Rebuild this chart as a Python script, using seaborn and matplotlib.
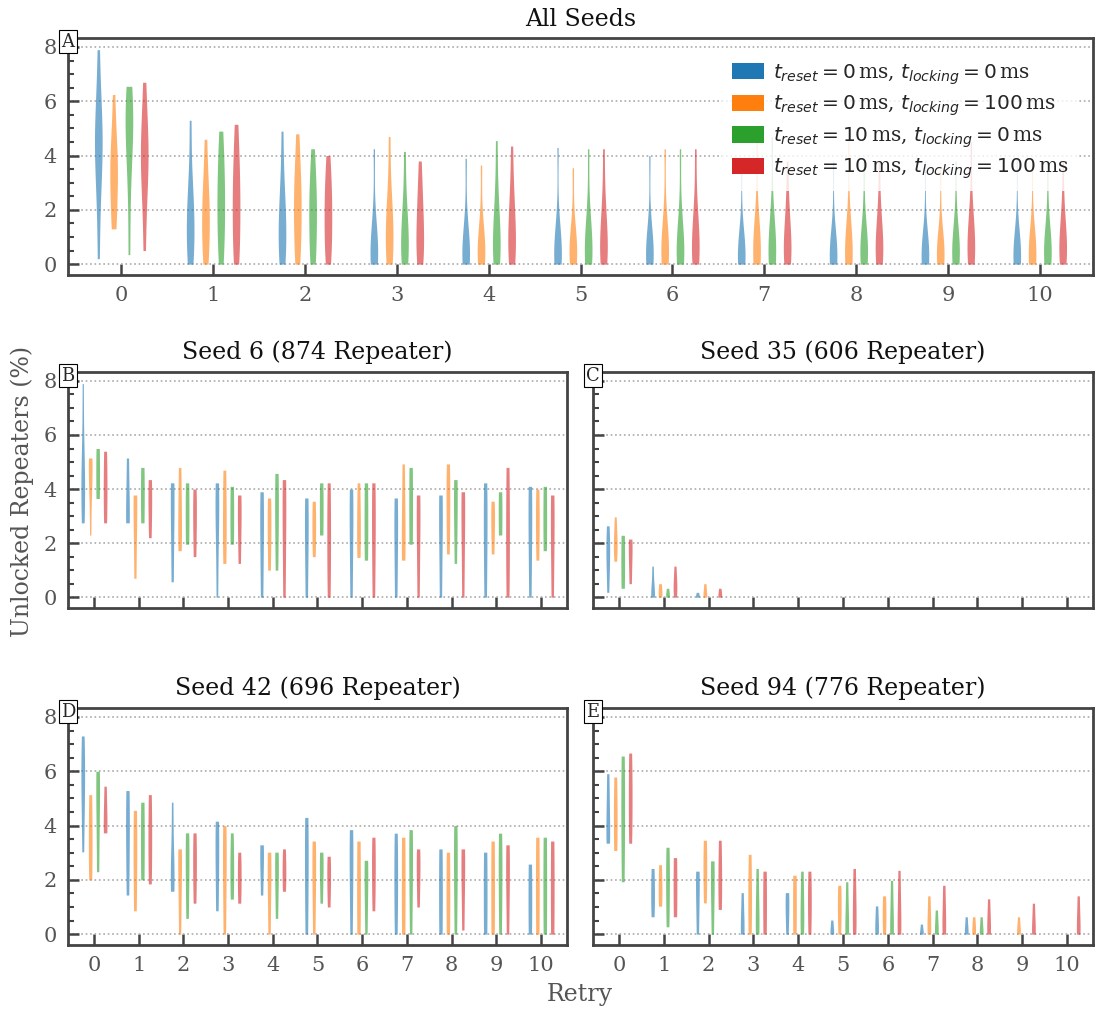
import matplotlib
matplotlib.use("Agg")
import matplotlib.pyplot as plt
from matplotlib.patches import Patch
from matplotlib.ticker import MultipleLocator
import pandas as pd
import seaborn as sns

sns.set_theme(style="ticks")
plt.rcParams["font.family"] = ["DejaVu Serif"]
plt.rcParams["mathtext.fontset"] = "dejavusans"

RETRIES = list(range(11))
CONFIGS = [
    r"$t_{reset} = 0\,$ms, $t_{locking} = 0\,$ms",
    r"$t_{reset} = 0\,$ms, $t_{locking} = 100\,$ms",
    r"$t_{reset} = 10\,$ms, $t_{locking} = 0\,$ms",
    r"$t_{reset} = 10\,$ms, $t_{locking} = 100\,$ms",
]
COLORS = ["#1f77b4", "#ff7f0e", "#2ca02c", "#d62728"]

# Unlocked repeaters (%) per retry, one list of run results per retry.
# ---- All seeds ----
ALL_R0_L0 = [
    [0.2, 2.5, 3.8, 4.3, 4.6, 5.0, 5.6, 7.9],
    [0, 0.3, 0.8, 1.3, 1.8, 2.3, 3.0, 5.3],
    [0, 0.2, 0.7, 1.2, 1.7, 2.2, 3.0, 4.9],
    [0, 0, 0.1, 0.3, 0.6, 1.0, 1.6, 4.25],
    [0, 0, 0.1, 0.3, 0.6, 0.9, 1.5, 3.9],
    [0, 0, 0.1, 0.3, 0.5, 0.8, 1.4, 4.3],
    [0, 0, 0.1, 0.3, 0.5, 0.8, 1.3, 4.0],
    [0, 0, 0.1, 0.2, 0.4, 0.7, 1.2, 3.8],
    [0, 0, 0.1, 0.2, 0.4, 0.7, 1.2, 3.8],
    [0, 0, 0.1, 0.2, 0.4, 0.7, 1.1, 3.8],
    [0, 0, 0.1, 0.2, 0.4, 0.7, 1.1, 3.9],
]
ALL_R0_L100 = [
    [1.3, 1.6, 2.6, 3.2, 3.6, 4.0, 4.6, 6.25],
    [0, 0.4, 1.0, 1.6, 2.0, 2.5, 3.2, 4.6],
    [0, 0.5, 1.2, 1.9, 2.4, 2.9, 3.6, 4.8],
    [0, 0.2, 0.6, 1.0, 1.5, 2.0, 2.6, 4.7],
    [0, 0, 0.2, 0.4, 0.7, 1.0, 1.6, 3.65],
    [0, 0, 0.2, 0.4, 0.7, 1.0, 1.5, 3.55],
    [0, 0, 0.2, 0.4, 0.7, 1.1, 1.7, 4.25],
    [0, 0, 0.2, 0.4, 0.7, 1.0, 1.6, 4.8],
    [0, 0, 0.1, 0.3, 0.6, 0.9, 1.5, 4.6],
    [0, 0, 0.1, 0.3, 0.5, 0.8, 1.3, 3.5],
    [0, 0, 0.1, 0.3, 0.5, 0.8, 1.3, 3.9],
]
ALL_R10_L0 = [
    [0.35, 2.8, 4.2, 4.8, 5.2, 5.6, 6.0, 6.55],
    [0, 0.6, 1.4, 2.0, 2.6, 3.2, 4.0, 4.9],
    [0, 0.3, 1.0, 1.7, 2.2, 2.6, 3.3, 4.25],
    [0, 0.1, 0.4, 0.8, 1.2, 1.7, 2.4, 4.15],
    [0, 0.1, 0.4, 0.8, 1.2, 1.8, 2.6, 4.55],
    [0, 0, 0.2, 0.5, 0.8, 1.2, 1.9, 4.25],
    [0, 0, 0.2, 0.4, 0.7, 1.1, 1.8, 4.25],
    [0, 0, 0.2, 0.4, 0.7, 1.1, 1.7, 4.7],
    [0, 0, 0.2, 0.4, 0.7, 1.0, 1.6, 3.8],
    [0, 0, 0.2, 0.4, 0.6, 1.0, 1.5, 3.8],
    [0, 0, 0.2, 0.4, 0.6, 1.0, 1.5, 3.8],
]
ALL_R10_L100 = [
    [0.5, 2.2, 3.3, 3.8, 4.1, 4.5, 5.4, 6.7],
    [0, 0.5, 1.2, 2.0, 2.6, 3.2, 4.0, 5.15],
    [0, 0.4, 1.0, 1.6, 2.1, 2.6, 3.2, 4.0],
    [0, 0.2, 0.6, 1.1, 1.6, 2.1, 2.8, 3.8],
    [0, 0.2, 0.5, 1.0, 1.5, 2.0, 2.8, 4.35],
    [0, 0.1, 0.3, 0.7, 1.1, 1.6, 2.4, 4.25],
    [0, 0.1, 0.3, 0.6, 1.0, 1.5, 2.2, 4.25],
    [0, 0.1, 0.3, 0.6, 1.0, 1.5, 2.2, 3.8],
    [0, 0.1, 0.3, 0.6, 0.9, 1.4, 2.0, 3.8],
    [0, 0.1, 0.3, 0.6, 0.9, 1.3, 2.0, 4.5],
    [0, 0.1, 0.3, 0.6, 0.9, 1.3, 2.0, 3.8],
]

# ---- Seed 6 ----
S6_R0_L0 = [
    [2.75, 3.8, 4.3, 4.8, 7.9], [2.75, 3.2, 5.15], [0.57, 3.4, 4.23],
    [0, 2.6, 3.6, 4.23], [0, 2.6, 3.9], [0, 2.5, 3.67], [0, 2.8, 4.0],
    [0, 2.4, 3.67], [0, 2.8, 3.78], [0, 2.6, 4.23], [0, 2.8, 4.1],
]
S6_R0_L100 = [
    [2.3, 3.9, 4.6, 5.15, 5.15], [0.7, 3.3, 3.78], [1.72, 2.8, 4.8],
    [1.25, 2.8, 4.7], [1.0, 2.6, 3.67], [1.5, 2.6, 3.55], [1.47, 2.6, 4.23],
    [1.37, 2.4, 4.93], [1.6, 3.5, 4.93], [1.6, 2.8, 3.55], [1.37, 2.8, 4.0],
]
S6_R10_L0 = [
    [3.65, 5.5], [2.75, 4.8], [1.96, 4.23], [1.96, 4.1], [1.0, 3.2, 4.58],
    [2.3, 4.23], [1.37, 4.23], [1.96, 4.8], [1.25, 3.4, 4.35], [2.3, 3.9],
    [1.72, 4.1],
]
S6_R10_L100 = [
    [2.75, 4.05, 5.4], [2.2, 3.5, 4.35], [1.5, 3.0, 4.0], [1.25, 3.0, 3.78],
    [0, 3.0, 4.35], [0, 2.2, 4.23], [0, 2.6, 4.23], [0, 2.8, 3.78],
    [0, 3.0, 3.9], [0, 2.4, 4.8], [0, 2.6, 3.78],
]

# ---- Seed 35 ----
S35_R0_L0 = [[0.18, 1.4, 1.8, 2.64], [0, 0, 0.3, 1.15], [0, 0.05, 0.18]] + [[]] * 8
S35_R0_L100 = [[1.33, 1.9, 2.1, 2.97], [0, 0.2, 0.5], [0, 0.1, 0.5]] + [[]] * 8
S35_R10_L0 = [[0.33, 2.29], [0, 0.1, 0.33], []] + [[]] * 8
S35_R10_L100 = [[0.5, 1.7, 2.15], [0, 0.3, 0.6, 1.15], [0, 0.1, 0.33]] + [[]] * 8

# ---- Seed 42 ----
S42_R0_L0 = [
    [3.03, 5.3, 5.9, 7.3], [1.44, 3.8, 5.29], [1.58, 2.0, 2.6, 4.86],
    [0.86, 3.0, 4.16], [1.44, 2.8, 3.29], [0, 2.6, 4.3], [0, 2.6, 3.85],
    [0, 2.0, 3.72], [0, 3.14], [0, 3.02], [0, 2.58],
]
S42_R0_L100 = [
    [2.0, 3.5, 5.14], [0.86, 3.0, 4.56], [0, 2.5, 3.14], [0, 2.6, 4.0],
    [0, 2.2, 3.02], [0, 2.3, 3.43], [0, 3.43], [0, 3.57], [0, 3.02],
    [0, 3.43], [0, 3.57],
]
S42_R10_L0 = [
    [2.3, 5.2, 6.0], [2.0, 4.86], [0.58, 2.6, 3.73], [1.29, 2.4, 3.73],
    [0.58, 2.3, 3.02], [1.14, 2.4, 3.02], [0, 2.0, 2.72], [0, 2.6, 3.85],
    [0, 2.5, 4.0], [0, 2.2, 3.72], [0, 3.57],
]
S42_R10_L100 = [
    [3.73, 4.2, 5.45], [1.85, 3.5, 5.14], [1.14, 2.6, 3.73], [1.14, 2.1, 3.02],
    [1.58, 2.3, 3.14], [1.0, 2.1, 2.87], [0.86, 2.4, 3.57], [1.0, 2.4, 3.14],
    [0.15, 2.4, 3.14], [0, 2.2, 3.29], [0, 3.43],
]

# ---- Seed 94 ----
S94_R0_L0 = [
    [3.35, 4.0, 5.91], [0.64, 1.5, 2.42], [0, 1.7, 2.32], [0, 0.3, 1.53],
    [0, 1.0, 1.53], [0, 0.1, 0.52], [0, 0.3, 1.04], [0, 0.05, 0.37],
    [0, 0.1, 0.64], [], [],
]
S94_R0_L100 = [
    [3.08, 4.3, 5.79], [1.03, 1.7, 2.56], [1.15, 2.4, 3.46], [0, 1.3, 2.94],
    [0, 2.17], [0, 1.0, 1.8], [0, 0.7, 1.41], [0, 0.4, 1.41],
    [0, 0.2, 0.64], [0, 0.1, 0.64], [],
]
S94_R10_L0 = [
    [1.93, 4.5, 6.56], [0.27, 1.9, 3.2], [0, 1.9, 2.7], [0, 0.6, 2.42],
    [0, 0.8, 2.32], [0, 0.3, 1.93], [0, 0.3, 1.98], [0, 0.2, 0.89],
    [0, 0.1, 0.64], [], [],
]
S94_R10_L100 = [
    [3.35, 5.0, 6.67], [0.64, 2.82], [0.91, 2.0, 3.46], [0, 2.32],
    [0, 1.2, 2.32], [0, 0.8, 2.42], [0, 0.5, 2.35], [0, 0.5, 1.8],
    [0, 0.3, 1.3], [0, 0.2, 1.14], [0, 0.3, 1.41],
]

PANELS = [
    ("A", "All Seeds", [ALL_R0_L0, ALL_R0_L100, ALL_R10_L0, ALL_R10_L100]),
    ("B", "Seed 6 (874 Repeater)", [S6_R0_L0, S6_R0_L100, S6_R10_L0, S6_R10_L100]),
    ("C", "Seed 35 (606 Repeater)", [S35_R0_L0, S35_R0_L100, S35_R10_L0, S35_R10_L100]),
    ("D", "Seed 42 (696 Repeater)", [S42_R0_L0, S42_R0_L100, S42_R10_L0, S42_R10_L100]),
    ("E", "Seed 94 (776 Repeater)", [S94_R0_L0, S94_R0_L100, S94_R10_L0, S94_R10_L100]),
]

W, H = 1097, 1011
fig = plt.figure(figsize=(W / 100, H / 100), dpi=100)


def px_axes(left, top, right, bottom):
    return fig.add_axes([left / W, 1 - bottom / H, (right - left) / W, (bottom - top) / H])


axes = [
    px_axes(68, 38, 1093, 275),
    px_axes(68, 372, 567, 608),
    px_axes(593, 372, 1093, 608),
    px_axes(68, 708, 567, 945),
    px_axes(593, 708, 1093, 945),
]

SPINE = "#444444"
TICKTXT = "#555555"

for ax, (letter, title, runs) in zip(axes, PANELS):
    rows = []
    for cfg, per_retry in zip(CONFIGS, runs):
        for r, vals in zip(RETRIES, per_retry):
            for v in vals:
                rows.append((r, cfg, v))
    df = pd.DataFrame(rows, columns=["Retry", "Config", "Unlocked"])
    sns.violinplot(
        data=df, x="Retry", y="Unlocked", hue="Config",
        order=RETRIES, hue_order=CONFIGS, palette=COLORS,
        width=2 / 3, gap=0.5, cut=0, inner=None, linewidth=0,
        density_norm="width", saturation=1, alpha=0.6,
        legend=False, ax=ax,
    )
    ax.set_xlim(-0.58, 10.58)
    ax.set_ylim(-0.4, 8.33)
    ax.set_xlabel("")
    ax.set_ylabel("")
    ax.set_title(title, fontsize=17, pad=9, color="#111111")
    ax.yaxis.set_major_locator(MultipleLocator(2))
    ax.yaxis.set_minor_locator(MultipleLocator(0.5))
    ax.yaxis.grid(True, which="major", linestyle=":", color="#aaaaaa", linewidth=1.2)
    ax.set_axisbelow(True)
    for sp in ax.spines.values():
        sp.set_visible(True)
        sp.set_color(SPINE)
        sp.set_linewidth(2)
    ax.tick_params(axis="both", which="major", direction="in", length=8, width=1.8,
                   color=SPINE, labelsize=15, labelcolor=TICKTXT, pad=8)
    ax.tick_params(axis="y", which="minor", direction="in", length=4, width=1.5, color=SPINE)
    ax.tick_params(axis="x", which="minor", bottom=False)
    if letter in ("B", "C"):
        ax.tick_params(axis="x", labelbottom=False)
    if letter in ("C", "E"):
        ax.tick_params(axis="y", labelleft=False)
    ax.text(0.0, 0.985, letter, transform=ax.transAxes, ha="center", va="center",
            fontsize=13, zorder=20, clip_on=False,
            bbox=dict(boxstyle="square,pad=0.12", fc="white", ec="black", lw=0.8))

handles = [Patch(facecolor=c, edgecolor="none") for c in COLORS]
leg = axes[0].legend(handles, CONFIGS, loc="upper right", fontsize=14.5,
                     frameon=True, framealpha=0.8, edgecolor="none",
                     handlelength=1.6, handleheight=0.85, handletextpad=0.45,
                     labelspacing=0.35, borderaxespad=0.7, borderpad=0.5)
leg.set_zorder(15)

fig.text(22 / W, 1 - 491 / H, "Unlocked Repeaters (%)", rotation=90, ha="center",
         va="center", fontsize=17, color=TICKTXT)
fig.text(580 / W, 1 - 995 / H, "Retry", ha="center", va="center", fontsize=17,
         color=TICKTXT)

fig.savefig("out.png", dpi=100)
